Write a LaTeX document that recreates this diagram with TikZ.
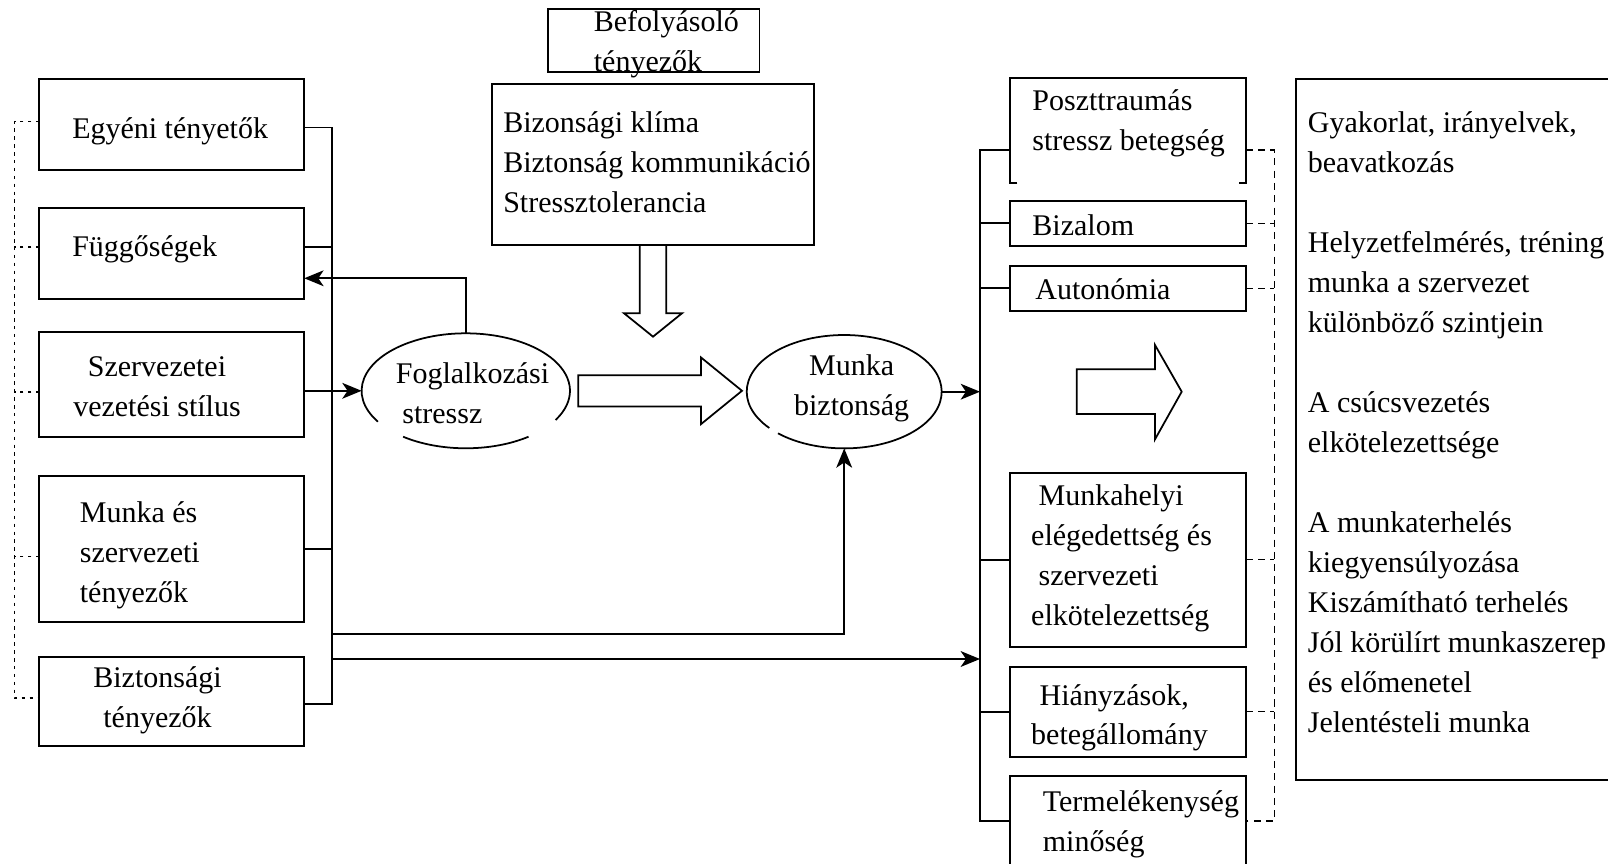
\documentclass[tikz,border=0pt]{standalone}
\usepackage{fontspec}
\setmainfont{Liberation Serif}
\usetikzlibrary{arrows.meta,shapes.geometric}

\begin{document}
\begin{tikzpicture}[line cap=butt,line join=miter,line width=1pt,x=0.02cm,y=-0.02cm,
  >={Stealth[length=11pt,width=9pt,inset=3pt]},
  box/.style={draw,rectangle,inner sep=0pt,outer sep=0pt,anchor=north west},
  txt/.style={inner sep=0pt,align=left,font=\fontsize{17.07pt}{22.76pt}\selectfont},
  ell/.style={ellipse,inner sep=0pt,outer sep=0pt},
  dsh/.style={line width=0.8pt,dash pattern=on 4pt off 3pt},
  dot/.style={line width=0.9pt,dash pattern=on 2pt off 2.5pt}]
\useasboundingbox (0,0) rectangle (1608,864);

% bal oszlop
\node[box,minimum width=5.3cm,minimum height=1.82cm] (egy) at (39.3,79) {};
\node[box,minimum width=5.3cm,minimum height=1.82cm] (fugg) at (39.3,208.3) {};
\node[box,minimum width=5.3cm,minimum height=2.1cm] (szerv) at (39.3,332.3) {};
\node[box,minimum width=5.3cm,minimum height=2.92cm] (munka) at (39.3,475.7) {};
\node[box,minimum width=5.3cm,minimum height=1.786cm] (bizt) at (39.3,656.7) {};
\node[txt,anchor=west] (egy-t) at (71.4,131) {Egyéni tényetők};
\node[txt,anchor=west] (fugg-t) at (71.4,249.7) {Függőségek};
\node[txt,align=center] (szerv-t) at (157,386.8) {Szervezetei\\vezetési stílus};
\node[txt,anchor=west] (munka-t) at (79,555.3) {Munka és\\szervezeti\\tényezők};
\node[txt,align=center] (bizt-t) at (157.5,700.7) {Biztonsági\\tényezők};

% kozep
\node[box,minimum width=4.232cm,minimum height=1.248cm] (befoly) at (548,9.3) {};
\node[txt,anchor=west] (befoly-t) at (593,44) {Befolyásoló\\tényezők};
\node[box,minimum width=6.45cm,minimum height=3.214cm] (klima) at (491.8,84.3) {};
\node[txt,anchor=west] (klima-t) at (502.4,162.6) {Bizonsági klíma\\Biztonság kommunikáció\\Stressztolerancia};
\node[ell,minimum width=4.168cm,minimum height=2.3cm] (fog) at (465.8,390.8) {};
\node[txt,anchor=west] (fog-t) at (395,393.7) {Foglalkozási\\\hspace*{0.13cm}stressz};
\node[ell,minimum width=3.9cm,minimum height=2.268cm] (mbt) at (844.2,391.7) {};
\node[txt,align=center] (mbt-t) at (851.6,388) {Munka\\biztonság};
\draw ([shift={(212.5:2.084cm and 1.15cm)}]fog.center) arc[start angle=212.5,end angle=-30.5,x radius=2.084cm,y radius=1.15cm];
\draw ([shift={(233:2.084cm and 1.15cm)}]fog.center) arc[start angle=233,end angle=307,x radius=2.084cm,y radius=1.15cm];
\draw ([shift={(219.8:1.95cm and 1.134cm)}]mbt.center) arc[start angle=219.8,end angle=-132.8,x radius=1.95cm,y radius=1.134cm];

% jobb oszlop
\node[box,draw=none,minimum width=4.712cm,minimum height=2.1cm] (pts) at (1010.3,78.3) {};
\draw ([xshift=0.14cm]pts.south west) -- (pts.south west) -- (pts.north west) -- (pts.north east) -- (pts.south east) -- ([xshift=-0.14cm]pts.south east);
\node[box,minimum width=4.712cm,minimum height=0.906cm] (biz) at (1010.3,200.7) {};
\node[box,minimum width=4.712cm,minimum height=0.894cm] (auto) at (1010.3,266) {};
\node[box,minimum width=4.712cm,minimum height=3.48cm] (eleg) at (1010.3,472.7) {};
\node[box,minimum width=4.712cm,minimum height=1.8cm] (hiany) at (1010.3,666.7) {};
\node[box,minimum width=4.712cm,minimum height=1.8cm] (term) at (1010.3,776) {};
\node[txt,anchor=west] (pts-t) at (1031.6,123.7) {Poszttraumás\\stressz betegség};
\node[txt,anchor=west] (biz-t) at (1031.6,225) {Bizalom};
\node[txt,anchor=west] (auto-t) at (1034.6,289.5) {Autonómia};
\node[txt,anchor=west] (eleg-t) at (1030.3,558.7) {\hspace*{0.15cm}Munkahelyi\\elégedettség és\\\hspace*{0.15cm}szervezeti\\elkötelezettség};
\node[txt,anchor=west] (hiany-t) at (1030.3,717.8) {\hspace*{0.17cm}Hiányzások,\\betegállomány};
\node[txt,anchor=west] (term-t) at (1042,824) {Termelékenység\\minőség};
\node[box,minimum width=6.486cm,minimum height=14.014cm] (gyak) at (1295.7,79.3) {};
\node[txt,anchor=west] (gyak-t) at (1307,422.5) {Gyakorlat, irányelvek,\\beavatkozás\\[22.76pt]Helyzetfelmérés, tréning\\munka a szervezet\\különböző szintjein\\[22.76pt]A csúcsvezetés\\elkötelezettsége\\[22.76pt]A munkaterhelés\\kiegyensúlyozása\\Kiszámítható terhelés\\Jól körülírt munkaszerep\\és előmenetel\\Jelentésteli munka};

\coordinate (lbus) at (332,0);
\coordinate (ldot) at (14.3,0);
\coordinate (rbus) at (980,0);
\coordinate (rdsh) at (1274.4,0);
\coordinate (b1) at (332,634);
\coordinate (b2) at (332,659);

\draw ([yshift=-0.06cm]egy.east) -| ([yshift=-0.05cm]bizt.east -| lbus) -- ([yshift=-0.05cm]bizt.east);
\draw ([yshift=0.13cm]fugg.east) -- ([yshift=0.13cm]fugg.east -| lbus);
\draw (munka.east) -- (munka.east -| lbus);
\draw[->] (szerv.east |- fog.west) -- (fog.west);
\draw[->] (fog.north) |- ([yshift=-0.49cm]fugg.east);
\draw[->] (b1) -| (mbt.south);
\draw[->] (b2) -- (b2 -| rbus);
\draw[->] (mbt.east) -- (mbt.east -| rbus);

\draw[dot] ([yshift=0.056cm]egy.west) -| ([yshift=0.066cm]bizt.west -| ldot) -- ([yshift=0.066cm]bizt.west);
\draw[dot] ([yshift=0.13cm]fugg.west) -- ([yshift=0.13cm]fugg.west -| ldot);
\draw[dot] ([yshift=-0.14cm]szerv.west) -- ([yshift=-0.14cm]szerv.west -| ldot);
\draw[dot] ([yshift=-0.16cm]munka.west) -- ([yshift=-0.16cm]munka.west -| ldot);

\draw ([yshift=-0.384cm]pts.west) -| (term.west -| rbus) -- (term.west);
\foreach \n in {biz,auto,eleg,hiany} \draw (\n.west) -- (\n.west -| rbus);
\draw[dsh] ([yshift=-0.384cm]pts.east) -| (term.east -| rdsh) -- (term.east);
\foreach \n in {biz,auto,eleg,hiany} \draw[dsh] (\n.east) -- (\n.east -| rdsh);

% ures nyilak
\draw ([xshift=-0.266cm]klima.south) -- ++(0,68.3) -- ++(-15.7,0) -- ++(29,23.4) -- ++(29,-23.4) -- ++(-15.7,0) -- ++(0,-68.3);
\draw ([shift={(8.3,-15.65)}]fog.east) -- ++(122.7,0) -- ++(0,-17.7) -- ++(41,33.35) -- ++(-41,33.35) -- ++(0,-17.7) -- ++(-122.7,0) -- cycle;
\draw (1076.7,369.3) -- (1155,369.3) -- (1155,345) -- (1181.7,391.7) -- (1155,439.3) -- (1155,414) -- (1076.7,414) -- cycle;
\end{tikzpicture}
\end{document}
